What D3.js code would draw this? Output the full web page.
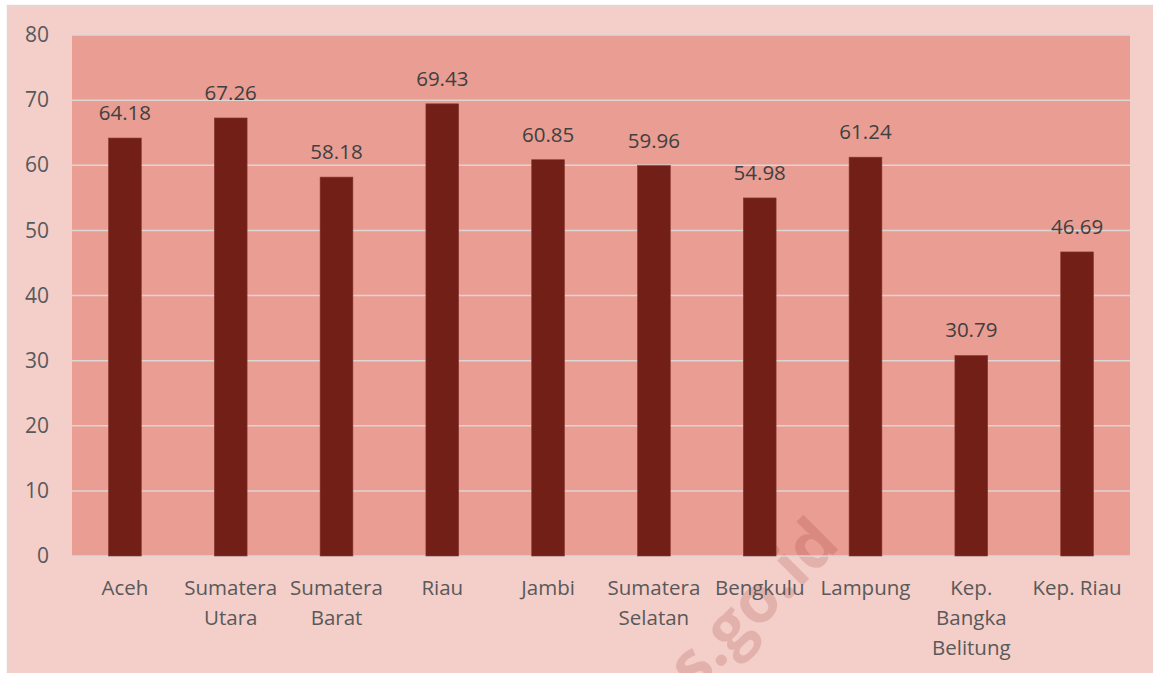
<!DOCTYPE html>
<html>
<head>
<meta charset="utf-8">
<script src="https://cdn.jsdelivr.net/npm/d3@7"></script>
<style>
  body { margin: 0; background: #fff; }
  svg text { font-family: "Open Sans", sans-serif; }
</style>
</head>
<body>
<svg id="chart" width="1153" height="673"></svg>
<script>
// province names, split into lines the way they wrap under the bars
var provinces = [
  ["Aceh"],
  ["Sumatera", "Utara"],
  ["Sumatera", "Barat"],
  ["Riau"],
  ["Jambi"],
  ["Sumatera", "Selatan"],
  ["Bengkulu"],
  ["Lampung"],
  ["Kep.", "Bangka", "Belitung"],
  ["Kep. Riau"]
];
var values = [64.18, 67.26, 58.18, 69.43, 60.85, 59.96, 54.98, 61.24, 30.79, 46.69];
var yTicks = [0, 10, 20, 30, 40, 50, 60, 70, 80];

var svg = d3.select('#chart');
var plot = {left: 72, right: 1130, top: 35, bottom: 556};

// outer chart area
svg.append('rect')
  .attr('x', 7.5).attr('y', 5.5)
  .attr('width', 1150).attr('height', 672)
  .attr('fill', '#f4cec9')
  .attr('stroke', '#d9d9d9').attr('stroke-width', 1.5);

svg.append('rect')
  .attr('x', plot.left).attr('y', plot.top)
  .attr('width', plot.right - plot.left).attr('height', plot.bottom - plot.top)
  .attr('fill', '#e99d93');

var x = d3.scaleBand()
  .domain(d3.range(provinces.length))
  .range([plot.left, plot.right])
  .paddingInner(0.69).paddingOuter(0.345);

var y = d3.scaleLinear().domain([0, 80]).range([plot.bottom, plot.top]);

// watermark, sits behind the bars
svg.append('text')
  .attr('transform', 'translate(637,751) rotate(-45)')
  .attr('font-size', 65).attr('font-weight', 'bold')
  .attr('fill', 'rgba(150,50,45,0.18)')
  .text('bps.go.id');

// gridlines
svg.append('g').selectAll('line').data(yTicks).enter().append('line')
  .attr('x1', plot.left).attr('x2', plot.right)
  .attr('y1', function(d) { return y(d); })
  .attr('y2', function(d) { return y(d); })
  .attr('stroke', '#dcd6d5').attr('stroke-width', 1.5);

// y axis labels
var yAxis = d3.axisLeft(y).tickValues(yTicks).tickSize(0).tickPadding(0);
var ya = svg.append('g').attr('transform', 'translate(49,0)').call(yAxis);
ya.select('.domain').remove();
ya.selectAll('text')
  .attr('font-size', 21).attr('fill', '#595959')
  .attr('font-family', '"Open Sans", sans-serif');

// bars
svg.append('g').selectAll('rect').data(values).enter().append('rect')
  .attr('x', function(d, i) { return x(i); })
  .attr('y', function(d) { return y(d); })
  .attr('width', x.bandwidth())
  .attr('height', function(d) { return y(0) - y(d); })
  .attr('fill', '#711f17')
  .attr('stroke', '#8a3a32').attr('stroke-width', 0.6);

// value labels
svg.append('g').selectAll('text').data(values).enter().append('text')
  .attr('x', function(d, i) { return x(i) + x.bandwidth() / 2; })
  .attr('y', function(d) { return y(d) - 18; })
  .attr('text-anchor', 'middle')
  .attr('font-size', 20.5).attr('fill', '#404040')
  .text(function(d) { return d.toFixed(2); });

// category labels
var cat = svg.append('g').selectAll('text').data(provinces).enter().append('text')
  .attr('text-anchor', 'middle')
  .attr('font-size', 20.5).attr('fill', '#595959');
cat.each(function(lines, i) {
  var t = d3.select(this);
  lines.forEach(function(s, k) {
    t.append('tspan')
      .attr('x', x(i) + x.bandwidth() / 2)
      .attr('y', 595 + k * 30)
      .text(s);
  });
});
</script>
</body>
</html>
